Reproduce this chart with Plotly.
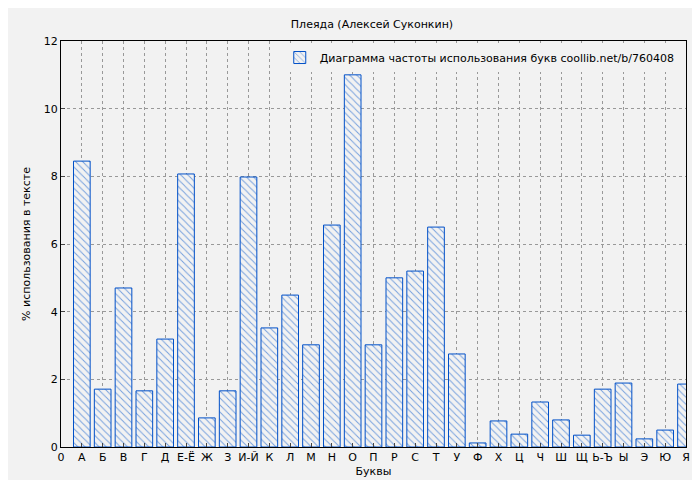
import plotly.graph_objects as go

letters = ["А", "Б", "В", "Г", "Д", "Е-Ё", "Ж", "З", "И-Й", "К", "Л", "М", "Н", "О", "П",
           "Р", "С", "Т", "У", "Ф", "Х", "Ц", "Ч", "Ш", "Щ", "Ь-Ъ", "Ы", "Э", "Ю", "Я"]
percent = [8.45, 1.71, 4.70, 1.66, 3.19, 8.07, 0.86, 1.66, 7.98, 3.52, 4.49, 3.02, 6.56, 11.0, 3.02,
           5.0, 5.2, 6.50, 2.75, 0.12, 0.77, 0.38, 1.33, 0.80, 0.35, 1.71, 1.89, 0.24, 0.50, 1.86]
positions = list(range(1, len(letters) + 1))

fig = go.Figure(go.Bar(
    x=positions, y=percent, width=0.8,
    name="Диаграмма частоты использования букв coollib.net/b/760408",
    marker=dict(color="#f2f2f2", line=dict(color="#0050c8", width=1),
                pattern=dict(shape="\\", fgcolor="#0050c8", size=5, solidity=0.2)),
))

grid = dict(showgrid=True, gridcolor="#999999", griddash="dot", gridwidth=1,
            showline=True, linecolor="black", mirror=True, ticks="inside", ticklen=4,
            zeroline=False, automargin=False, tickfont=dict(size=11, color="black"))

fig.update_layout(
    width=700, height=480,
    paper_bgcolor="#f2f2f2", plot_bgcolor="#f2f2f2",
    margin=dict(l=53, r=22, t=33, b=41, autoexpand=False),
    font=dict(family="DejaVu Sans", size=11, color="black"),
    title=dict(text="Плеяда (Алексей Суконкин)", x=0.52, y=0.975, font=dict(size=11)),
    showlegend=True,
    legend=dict(x=0.99, y=0.995, xanchor="right", yanchor="top", bgcolor="#f2f2f2",
                font=dict(size=11)),
    bargap=0.2,
)
fig.update_xaxes(range=[0, 30], tickvals=[0] + positions, ticktext=["0"] + letters,
                 title_text="Буквы", title_font=dict(size=11), title_standoff=4, **grid)
fig.update_yaxes(range=[0, 12], dtick=2, title_text="% использования в тексте",
                 title_font=dict(size=11), title_standoff=10, **grid)

fig.write_html("out.html")
